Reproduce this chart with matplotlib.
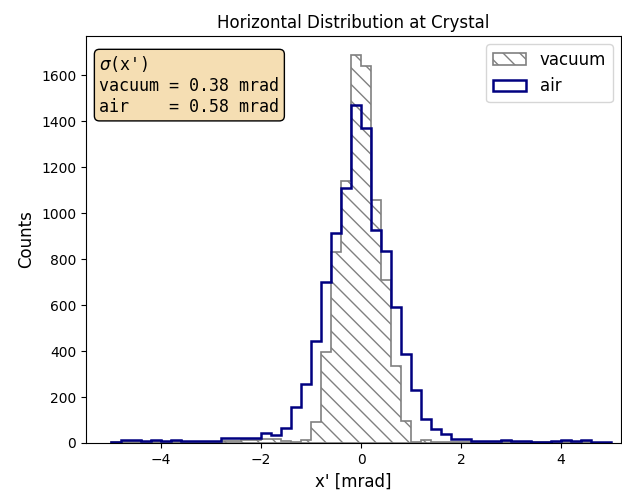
"""
Horizontal angular distribution at the crystal: vacuum vs air.
"""

import numpy as np
import matplotlib
matplotlib.use('Agg')
import matplotlib.pyplot as plt

# bin edges in mrad (50 bins of 0.2 mrad from -5 to 5)
bin_edges = np.round(np.arange(-5.0, 5.0001, 0.2), 1)

# counts per bin
vacuum_counts = [3, 6, 5, 4, 3, 5, 4, 3, 4, 5,
                 6, 8, 9, 13, 13, 19, 18, 8, 4, 12,
                 93, 394, 830, 1139, 1687, 1640, 1057, 709, 335, 97,
                 5, 14, 5, 4, 3, 4, 3, 5, 3, 4,
                 3, 2, 4, 3, 4, 3, 5, 3, 2, 1]
air_counts = [6, 15, 12, 8, 11, 10, 12, 9, 8, 8,
              9, 20, 20, 21, 22, 44, 35, 65, 157, 257,
              443, 700, 913, 1109, 1470, 1373, 926, 836, 593, 387,
              230, 104, 60, 37, 16, 16, 8, 7, 9, 13,
              9, 8, 5, 5, 10, 12, 8, 11, 5, 4]

sigma_vacuum = 0.38
sigma_air = 0.58


def plot_distribution():
    fig = plt.figure(figsize=(6.22, 4.92), dpi=100)
    ax = fig.add_axes([86 / 622, 49 / 492, 535 / 622, 407 / 492])

    left_edges = bin_edges[:-1]
    ax.hist(left_edges, bins=bin_edges, weights=vacuum_counts,
            histtype='stepfilled', facecolor='white', edgecolor='gray',
            hatch='\\\\', linewidth=1.2, label='vacuum')
    ax.hist(left_edges, bins=bin_edges, weights=air_counts,
            histtype='step', color='navy', linewidth=1.8, label='air')

    ax.set_xlim(-5.5, 5.2)
    ax.set_xlabel("x' [mrad]", fontsize=12)
    ax.set_ylabel('Counts', fontsize=12)
    ax.set_title('Horizontal Distribution at Crystal', fontsize=12)
    ax.legend(loc='upper right', fontsize=12)

    info = (r"$\sigma$(x')" + "\n"
            f"vacuum = {sigma_vacuum:.2f} mrad\n"
            f"air    = {sigma_air:.2f} mrad")
    ax.text(0.025, 0.955, info, transform=ax.transAxes, va='top', ha='left',
            family='DejaVu Sans Mono', fontsize=12,
            bbox=dict(boxstyle='round', facecolor='wheat', alpha=1.0))

    fig.savefig('out.png', dpi=100)


if __name__ == '__main__':
    plot_distribution()
